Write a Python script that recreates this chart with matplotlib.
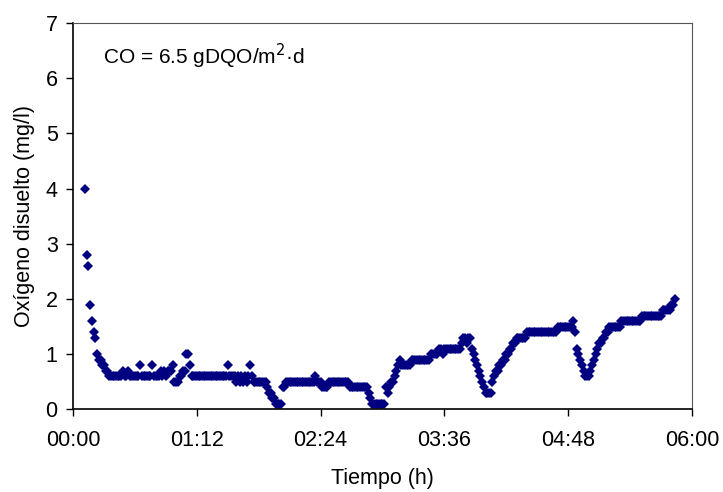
import numpy as np
import matplotlib.pyplot as plt

plt.rcParams['font.family'] = ['Liberation Sans', 'DejaVu Sans']

# dissolved oxygen readings, one per minute starting at minute 7
start_min = 7
do_mgl = [
    4.0, 2.8, 2.6, 1.9, 1.6, 1.4, 1.3, 1.0, 0.9, 0.9, 0.8, 0.8, 0.7, 0.7,          # 7-20
    0.6, 0.6, 0.6, 0.6, 0.6, 0.6, 0.6, 0.6, 0.7, 0.6, 0.6, 0.7, 0.6, 0.6,          # 21-34
    0.6, 0.6, 0.6, 0.6, 0.8, 0.6, 0.6, 0.6, 0.6, 0.6, 0.6, 0.8, 0.6, 0.6,          # 35-48
    0.6, 0.6, 0.7, 0.6, 0.7, 0.6, 0.7, 0.7, 0.7, 0.8, 0.5, 0.5, 0.5, 0.6,          # 49-62
    0.6, 0.7, 0.7, 1.0, 1.0, 0.8, 0.6, 0.6, 0.6, 0.6, 0.6, 0.6, 0.6, 0.6,          # 63-76
    0.6, 0.6, 0.6, 0.6, 0.6, 0.6, 0.6, 0.6, 0.6, 0.6, 0.6, 0.6, 0.6, 0.8,          # 77-90
    0.6, 0.6, 0.6, 0.6, 0.5, 0.6, 0.5, 0.6, 0.5, 0.6, 0.5, 0.6, 0.8, 0.6,          # 91-104
    0.5, 0.5, 0.5, 0.5, 0.5, 0.5, 0.5, 0.5, 0.4, 0.3, 0.3, 0.2, 0.2, 0.1,          # 105-118
    0.1, 0.1, 0.1, 0.4, 0.4, 0.5, 0.5, 0.5, 0.5, 0.5, 0.5, 0.5, 0.5, 0.5,          # 119-132
    0.5, 0.5, 0.5, 0.5, 0.5, 0.5, 0.5, 0.5, 0.6, 0.5, 0.5, 0.5, 0.4, 0.4,          # 133-146
    0.4, 0.4, 0.5, 0.5, 0.5, 0.5, 0.5, 0.5, 0.5, 0.5, 0.5, 0.5, 0.5, 0.5,          # 147-160
    0.4, 0.4, 0.4, 0.4, 0.4, 0.4, 0.4, 0.4, 0.4, 0.4, 0.4, 0.3, 0.2, 0.1,          # 161-174
    0.1, 0.1, 0.1, 0.1, 0.1, 0.1, 0.1, 0.4, 0.3, 0.4, 0.5, 0.5, 0.6, 0.7,          # 175-188
    0.8, 0.9, 0.8, 0.8, 0.8, 0.8, 0.8, 0.8, 0.9, 0.9, 0.9, 0.9, 0.9, 0.9,          # 189-202
    0.9, 0.9, 0.9, 0.9, 0.9, 1.0, 1.0, 1.0, 1.0, 1.0, 1.1, 1.1, 1.0, 1.1,          # 203-216
    1.1, 1.1, 1.1, 1.1, 1.1, 1.1, 1.1, 1.1, 1.1, 1.2, 1.3, 1.3, 1.2, 1.3,          # 217-230
    1.3, 1.1, 1.0, 0.9, 0.8, 0.7, 0.6, 0.5, 0.4, 0.3, 0.3, 0.3, 0.3, 0.5,          # 231-244
    0.6, 0.7, 0.7, 0.8, 0.8, 0.9, 0.9, 1.0, 1.0, 1.1, 1.1, 1.2, 1.2, 1.3,          # 245-258
    1.3, 1.3, 1.3, 1.3, 1.3, 1.4, 1.4, 1.4, 1.4, 1.4, 1.4, 1.4, 1.4, 1.4,          # 259-272
    1.4, 1.4, 1.4, 1.4, 1.4, 1.4, 1.4, 1.4, 1.4, 1.5, 1.5, 1.5, 1.5, 1.5,          # 273-286
    1.5, 1.5, 1.5, 1.5, 1.6, 1.4, 1.1, 1.0, 0.9, 0.8, 0.7, 0.6, 0.6, 0.6,          # 287-300
    0.7, 0.8, 0.9, 1.0, 1.1, 1.2, 1.2, 1.3, 1.3, 1.4, 1.4, 1.5, 1.5, 1.5,          # 301-314
    1.5, 1.5, 1.5, 1.5, 1.6, 1.6, 1.6, 1.6, 1.6, 1.6, 1.6, 1.6, 1.6, 1.6,          # 315-328
    1.6, 1.6, 1.7, 1.7, 1.7, 1.7, 1.7, 1.7, 1.7, 1.7, 1.7, 1.7, 1.7, 1.7,          # 329-342
    1.8, 1.8, 1.8, 1.8, 1.8, 1.9, 1.9, 2.0,                                        # 343-350
]
minutes = start_min + np.arange(len(do_mgl))

xtick_min = [0, 72, 144, 216, 288, 360]
xtick_labels = ['00:00', '01:12', '02:24', '03:36', '04:48', '06:00']
label_text = 'CO = 6.5 gDQO/m$^2$·d'

fig = plt.figure(figsize=(7.23, 4.92), dpi=100)
ax = fig.add_axes([0.101, 0.168, 0.856, 0.785])

ax.plot(minutes, do_mgl, linestyle='none', marker='D', markersize=5,
        color='#000080', markeredgewidth=0)

ax.set_xlim(0, 360)
ax.set_ylim(0, 7)
ax.set_xticks(xtick_min)
ax.set_xticklabels(xtick_labels)
ax.set_yticks(range(0, 8))
ax.tick_params(direction='out', length=5, width=1, labelsize=15.5)
ax.tick_params(axis='x', pad=10)
ax.tick_params(axis='y', pad=6)

for s in ['left', 'bottom']:
    ax.spines[s].set_linewidth(1.2)
for s in ['top', 'right']:
    ax.spines[s].set_linewidth(0.8)
    ax.spines[s].set_color('#555555')

ax.set_xlabel('Tiempo (h)', fontsize=15.5, labelpad=12)
ax.set_ylabel('Oxígeno disuelto (mg/l)', fontsize=15.5, labelpad=8)

ax.text(17.6, 6.4, label_text, fontsize=15, va='center', ha='left')

fig.savefig('out.png', dpi=100)
